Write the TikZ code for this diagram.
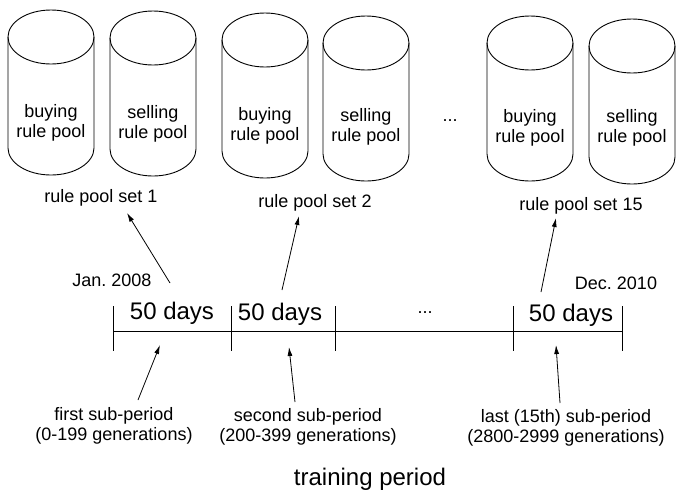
\documentclass[tikz,border=0pt]{standalone}
\usepackage{fontspec}
\setmainfont{Liberation Sans}
\usetikzlibrary{arrows.meta}
\frenchspacing

\tikzset{
  pool/.style={line width=0.9pt},
  rulecyl/.pic={
    \draw[pool] (0,0) ellipse (43pt and 27pt);
    \draw[pool] (-43pt,0) -- (-43pt,-111pt) arc (180:360:43pt and 27pt) -- (43pt,0);
  },
  lbl/.style={font=\fontsize{18}{20}\selectfont, align=center, inner sep=0pt},
  big/.style={font=\fontsize{24}{28}\selectfont, inner sep=0pt},
  tick/.style={line width=0.9pt},
  pointer/.style={line width=0.8pt, -{Latex[length=9pt,width=5pt]}},
}

\begin{document}
\begin{tikzpicture}[x=1pt,y=-1pt]
\useasboundingbox (0,0) rectangle (676,496);

% rule pool cylinders
\pic at (51,37)  {rulecyl};
\pic at (153,38) {rulecyl};
\pic at (265,40) {rulecyl};
\pic at (366,43) {rulecyl};
\pic at (530,43) {rulecyl};
\pic at (632,46) {rulecyl};

\node[lbl] (buy1)  at (51,122.5) {buying\\rule pool};
\node[lbl] (sell1) at (153,124)  {selling\\rule pool};
\node[lbl] (buy2)  at (265,125.5){buying\\rule pool};
\node[lbl] (sell2) at (366,127)  {selling\\rule pool};
\node[lbl] (buy15) at (530,128)  {buying\\rule pool};
\node[lbl] (sell15)at (632,128)  {selling\\rule pool};
\node[lbl] (dotstop) at (450,121) {...};

\node[lbl] (set1)  at (101,198) {rule pool set 1};
\node[lbl] (set2)  at (315,203) {rule pool set 2};
\node[lbl] (set15) at (581,206) {rule pool set 15};

% timeline
\coordinate (t0) at (113,331);
\coordinate (t1) at (231,331);
\coordinate (t2) at (335,331);
\coordinate (t3) at (513,331);
\coordinate (t4) at (622,331);
\draw[tick] (t0) -- (t4);
\foreach \t in {t0,t1,t2,t3,t4}
  \draw[tick] ([yshift=25pt]\t) -- ([yshift=-20pt]\t);

\node[lbl] (jan) at (112,280) {Jan. 2008};
\node[lbl] (dec) at (616,283) {Dec. 2010};

\node[big] (d1) at (172,313) {50 days};
\node[big] (d2) at (280,314) {50 days};
\node[big] (d3) at (571,315) {50 days};
\node[lbl] (dotsline) at (425,313) {...};

% sub-period labels
\node[lbl] (sp1)  at (114,426) {first sub-period\\(0-199 generations)};
\node[lbl] (sp2)  at (308,427) {second sub-period\\(200-399 generations)};
\node[lbl] (sp15) at (566,428) {last (15th) sub-period\\(2800-2999 generations)};

\node[big] (train) at (370,479) {training period};

% pointers from the timeline up to the rule pool sets
\coordinate (u1s) at (170,283);
\coordinate (u1e) at (127,213);
\coordinate (u2s) at (282,290);
\coordinate (u2e) at (299,216);
\coordinate (u3s) at (541,292);
\coordinate (u3e) at (556,218);
\draw[pointer] (u1s) -- (u1e);
\draw[pointer] (u2s) -- (u2e);
\draw[pointer] (u3s) -- (u3e);

% pointers from the sub-period labels up to the timeline
\coordinate (l1s) at (138,400);
\coordinate (l1e) at (160,345);
\coordinate (l2s) at (295,402);
\coordinate (l2e) at (289,347);
\coordinate (l3s) at (560,403);
\coordinate (l3e) at (556,345);
\draw[pointer] (l1s) -- (l1e);
\draw[pointer] (l2s) -- (l2e);
\draw[pointer] (l3s) -- (l3e);
\end{tikzpicture}
\end{document}
